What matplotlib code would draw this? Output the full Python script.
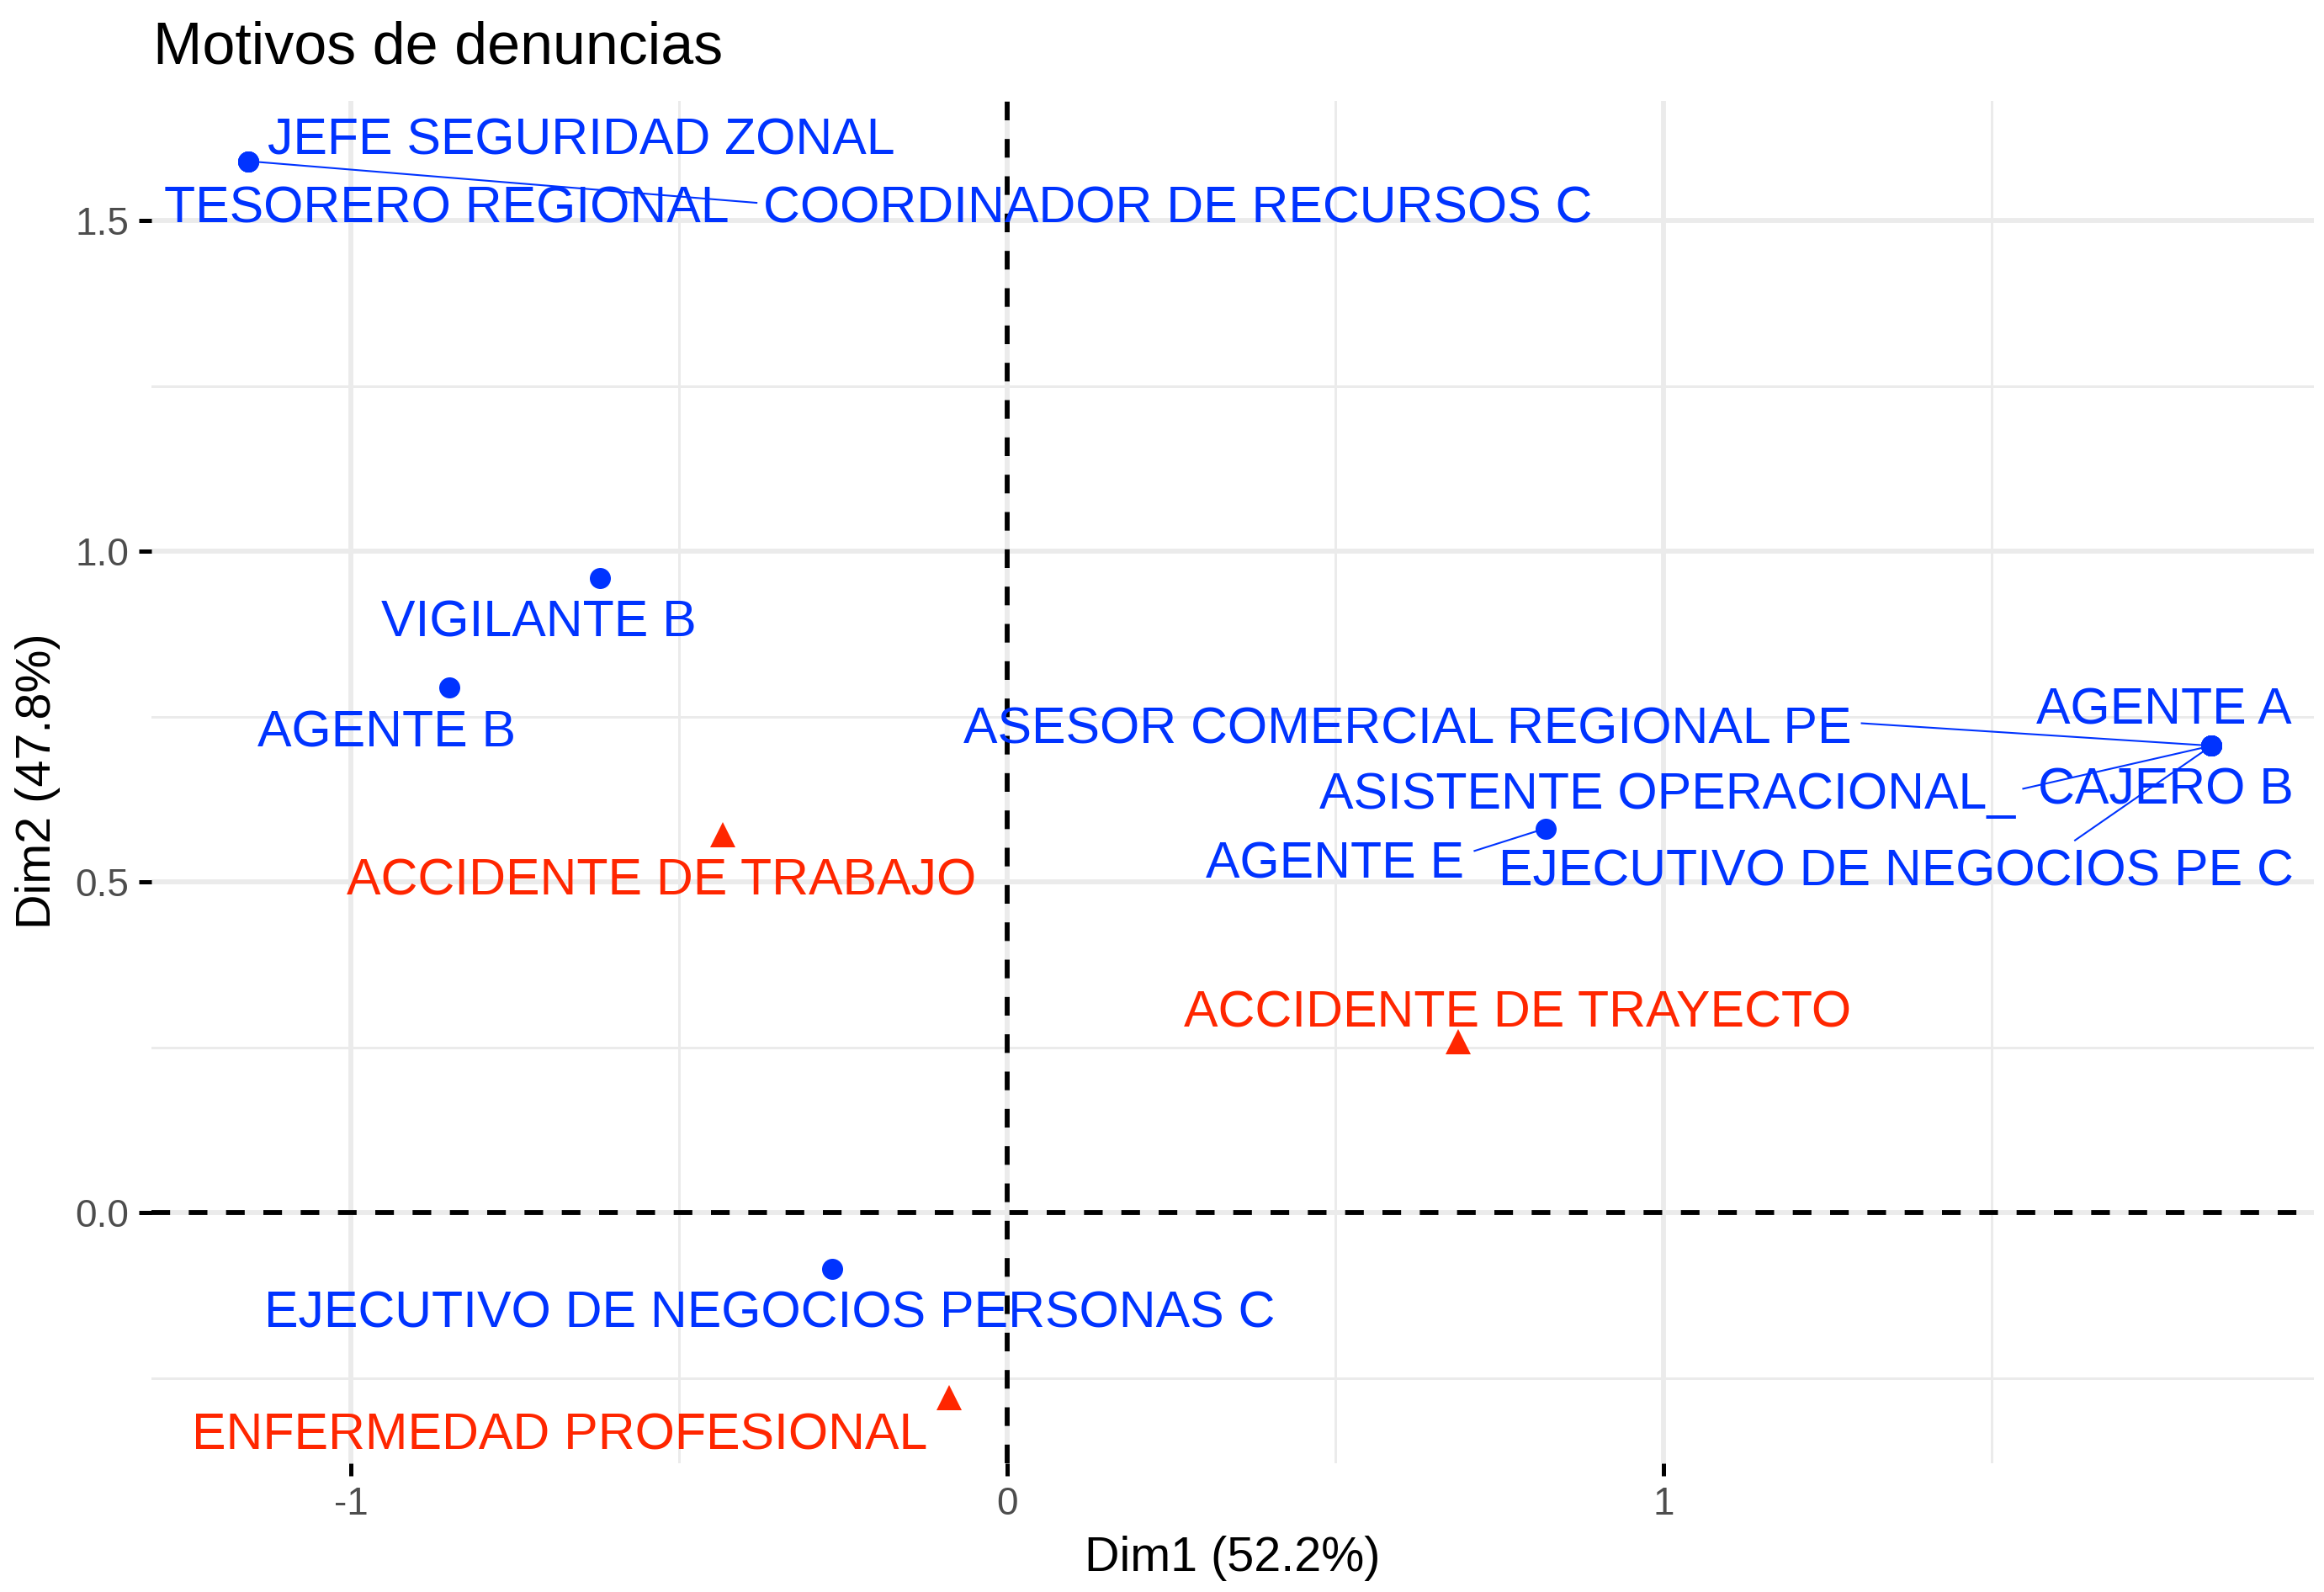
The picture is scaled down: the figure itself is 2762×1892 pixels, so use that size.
import matplotlib.pyplot as plt

plt.rcParams['font.family'] = ['Liberation Sans', 'DejaVu Sans']

# row points (cargos)
row_names = ['JEFE SEGURIDAD ZONAL', 'TESORERO REGIONAL', 'COORDINADOR DE RECURSOS C',
             'VIGILANTE B', 'AGENTE B', 'AGENTE A', 'ASESOR COMERCIAL REGIONAL PE',
             'CAJERO B', 'ASISTENTE OPERACIONAL_', 'EJECUTIVO DE NEGOCIOS PE C',
             'AGENTE E', 'EJECUTIVO DE NEGOCIOS PERSONAS C']
row_x = [-1.157, -1.157, -1.157, -0.621, -0.850, 1.835, 1.835, 1.835, 1.835, 1.835, 0.820, -0.267]
row_y = [1.590, 1.590, 1.590, 0.960, 0.794, 0.706, 0.706, 0.706, 0.706, 0.706, 0.581, -0.085]
# repelled label positions
row_lab_x = [-0.649, -0.854, 0.260, -0.714, -0.945, 1.763, 0.610, 1.765, 1.006, 1.354, 0.499, -0.362]
row_lab_y = [1.628, 1.525, 1.525, 0.899, 0.733, 0.767, 0.738, 0.646, 0.639, 0.522, 0.534, -0.146]
# segment ends (None = no segment)
row_seg_x = [None, None, -0.382, None, None, None, 1.302, None, 1.548, 1.627, 0.712, None]
row_seg_y = [None, None, 1.527, None, None, None, 0.740, None, 0.641, 0.563, 0.547, None]

# column points (motivos)
col_names = ['ACCIDENTE DE TRABAJO', 'ACCIDENTE DE TRAYECTO', 'ENFERMEDAD PROFESIONAL']
col_x = [-0.434, 0.687, -0.088]
col_y = [0.572, 0.258, -0.280]
col_lab_x = [-0.527, 0.777, -0.682]
col_lab_y = [0.509, 0.309, -0.330]

blue = '#0033FF'
red = '#FF2600'

fig = plt.figure(figsize=(2762 / 300, 1892 / 300), dpi=300)
ax = fig.add_axes([180 / 2762, 1 - 1739 / 1892, 2570 / 2762, 1619 / 1892])

ax.set_xlim(-1.304, 1.991)
ax.set_ylim(-0.379, 1.681)

# theme_minimal grid
ax.set_xticks([-1, 0, 1])
ax.set_yticks([0.0, 0.5, 1.0, 1.5])
ax.set_xticklabels(['-1', '0', '1'])
ax.set_yticklabels(['0.0', '0.5', '1.0', '1.5'])
for v in [-1, 0, 1]:
    ax.axvline(v, color='#EBEBEB', lw=1.4, zorder=0)
for v in [-0.5, 0.5, 1.5]:
    ax.axvline(v, color='#EBEBEB', lw=0.7, zorder=0)
for v in [0.0, 0.5, 1.0, 1.5]:
    ax.axhline(v, color='#EBEBEB', lw=1.4, zorder=0)
for v in [-0.25, 0.25, 0.75, 1.25]:
    ax.axhline(v, color='#EBEBEB', lw=0.7, zorder=0)
for s in ax.spines.values():
    s.set_visible(False)
ax.tick_params(length=3.5, width=1.2, color='black', labelcolor='#4D4D4D',
               labelsize=11, pad=3)

ax.axhline(0, color='black', lw=1.4, ls=(0, (3.8, 3.8)), zorder=1)
ax.axvline(0, color='black', lw=1.4, ls=(0, (3.8, 3.8)), zorder=1)

# segments
for i in range(len(row_names)):
    if row_seg_x[i] is not None:
        ax.plot([row_x[i], row_seg_x[i]], [row_y[i], row_seg_y[i]], color=blue, lw=0.5, zorder=2)

ax.plot(row_x, row_y, 'o', color=blue, ms=6, mec='none', zorder=3)
ax.plot(col_x, col_y, '^', color=red, ms=7, mec='none', zorder=3)

for n, x, y in zip(row_names, row_lab_x, row_lab_y):
    ax.text(x, y, n, color=blue, fontsize=14.6, ha='center', va='center_baseline', zorder=4)
for n, x, y in zip(col_names, col_lab_x, col_lab_y):
    ax.text(x, y, n, color=red, fontsize=14.6, ha='center', va='center_baseline', zorder=4)

ax.set_xlabel('Dim1 (52.2%)', fontsize=13.8)
ax.set_ylabel('Dim2 (47.8%)', fontsize=13.8)
ax.xaxis.label.set_va('center')
ax.yaxis.label.set_va('center')
ax.xaxis.set_label_coords(0.5, -0.070)
ax.yaxis.set_label_coords(-0.0525, 0.501)

fig.text(182 / 2762, 1 - 58 / 1892, 'Motivos de denuncias', fontsize=16.8, ha='left', va='center')

fig.savefig('out.png', dpi=300)
